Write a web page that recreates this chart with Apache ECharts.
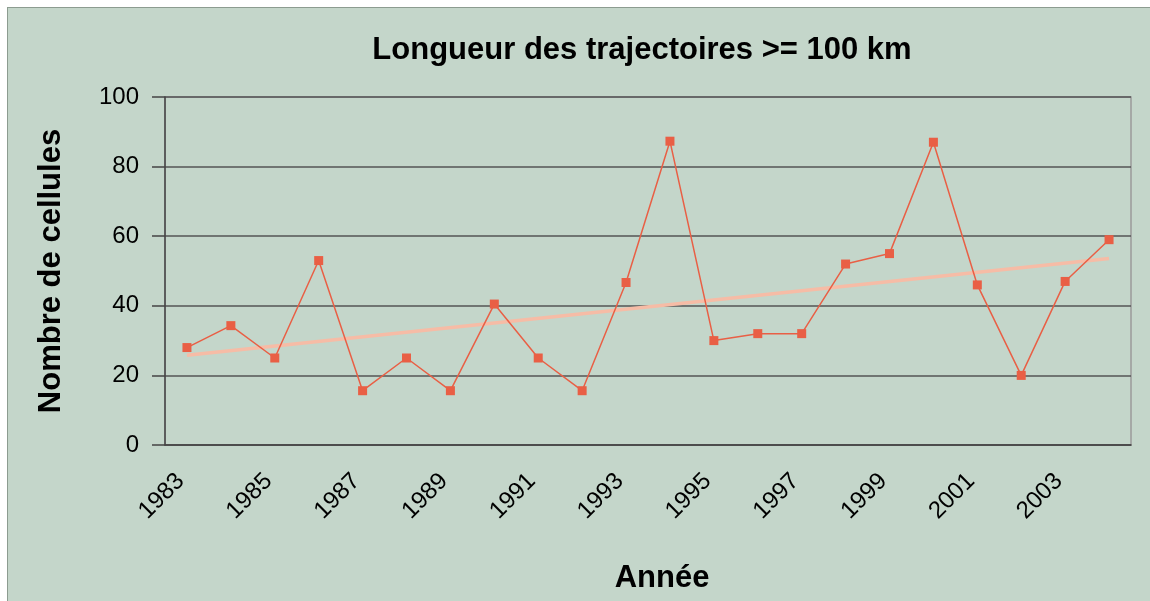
<!DOCTYPE html>
<html>
<head>
<meta charset="utf-8">
<script src="https://cdn.jsdelivr.net/npm/echarts@6/dist/echarts.min.js"></script>
<style>
    body { margin: 0; background: #ffffff; }
    #chart1 {
        position: absolute; left: 7px; top: 7px;
        width: 1143px; height: 594px;
        border-left: 1px solid #8c9c90; border-top: 1px solid #8c9c90;
    }
</style>
</head>
<body>
<div id="chart1"></div>
<script>
// années
const years = ['1983', '1984', '1985', '1986', '1987', '1988', '1989', '1990', '1991', '1992', '1993',
    '1994', '1995', '1996', '1997', '1998', '1999', '2000', '2001', '2002', '2003', '2004']
// nombre de cellules
const cellules = [28, 34.3, 25, 53, 15.6, 25, 15.6, 40.5, 25, 15.6, 46.7,
    87.3, 30, 32, 32, 52, 55, 87, 46, 20, 47, 59]
// tendance linéaire (début / fin)
const trendYears = ['1983', '2004']
const trendValues = [25.8, 53.6]
const yTicks = [0, 20, 40, 60, 80, 100]

const chart1 = echarts.init(document.getElementById('chart1'))
const fontFam = '"Liberation Sans", Arial, sans-serif'
let option = {
    backgroundColor: '#c4d6ca',
    animation: false,
    title: {
        text: 'Longueur des trajectoires >= 100 km',
        left: 629,
        top: 22,
        textAlign: 'center',
        textStyle: { fontSize: 31, fontWeight: 'bold', color: '#000', fontFamily: fontFam }
    },
    grid: {
        left: 157,
        right: 20,
        top: 89,
        bottom: 157,
        show: true,
        borderColor: '#9a9a9a',
        borderWidth: 1.5
    },
    xAxis: {
        type: 'category',
        data: years,
        name: 'Année',
        nameLocation: 'middle',
        nameGap: 118,
        nameTextStyle: { fontSize: 31, fontWeight: 'bold', color: '#000', fontFamily: fontFam, padding: [0, 0, 0, 28] },
        axisLine: { lineStyle: { color: '#444', width: 1.5 } },
        axisTick: { length: 13, lineStyle: { color: '#555', width: 1.5 } },
        axisLabel: {
            interval: 1,
            rotate: 45,
            margin: 26,
            padding: [0, 9, 0, 0],
            fontSize: 24,
            color: '#000',
            fontFamily: fontFam
        }
    },
    yAxis: {
        type: 'value',
        min: 0,
        max: 100,
        interval: 20,
        name: 'Nombre de cellules',
        nameLocation: 'middle',
        nameGap: 98,
        nameTextStyle: { fontSize: 31, fontWeight: 'bold', color: '#000', fontFamily: fontFam },
        axisLine: { show: true, lineStyle: { color: '#444', width: 1.5 } },
        axisTick: { show: true, length: 13, lineStyle: { color: '#444', width: 1.5 } },
        axisLabel: {
            margin: 26,
            fontSize: 24,
            color: '#000',
            fontFamily: fontFam,
            formatter: (v) => yTicks.includes(v) ? String(v) : ''
        },
        splitLine: { lineStyle: { color: '#555', width: 1.5 } }
    },
    series: [
        {
            name: 'Tendance',
            type: 'line',
            data: trendYears.map((y, i) => [y, trendValues[i]]),
            symbol: 'none',
            lineStyle: { color: '#f6bca6', width: 3.5 },
            z: 2
        },
        {
            name: 'Cellules',
            type: 'line',
            data: cellules,
            symbol: 'rect',
            symbolSize: 9,
            itemStyle: { color: '#e95f45' },
            lineStyle: { color: '#e95f45', width: 1.5 },
            z: 3
        }
    ]
}
chart1.setOption(option)
</script>
</body>
</html>
